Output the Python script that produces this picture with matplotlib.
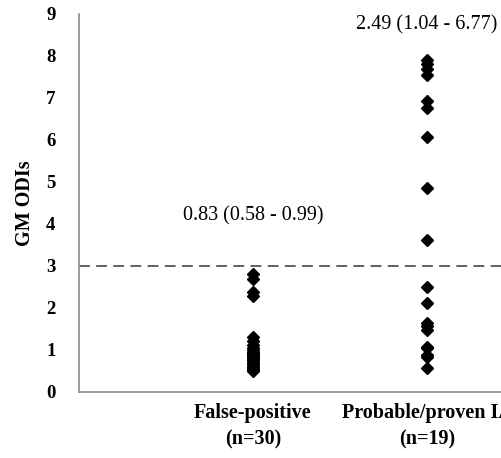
import matplotlib.pyplot as plt

# groups on the x axis
groups = ['False-positive\n(n=30)', 'Probable/proven IA\n(n=19)']

# GM ODI values
false_positive = [2.80, 2.70, 2.38, 2.28,
                  1.30, 1.22, 1.12, 1.04, 0.99, 0.96, 0.93, 0.90, 0.88, 0.86,
                  0.84, 0.82, 0.80, 0.77, 0.74, 0.70, 0.66, 0.62, 0.58, 0.57,
                  0.56, 0.55, 0.54, 0.53, 0.52, 0.50]
probable = [7.90, 7.80, 7.68, 7.55, 6.93, 6.77, 6.07, 4.86, 3.62,
            2.49, 2.11, 1.64, 1.56, 1.48, 1.08, 1.04, 0.88, 0.84, 0.57]

medians = ['0.83 (0.58 - 0.99)', '2.49 (1.04 - 6.77)']
median_y = [4.2, 8.75]
cutoff = 3

plt.rcParams['font.family'] = ['Liberation Serif', 'DejaVu Serif']

fig = plt.figure(figsize=(5.02, 4.58), dpi=100)
# axes run past the right edge, as in the (cropped) original
ax = fig.add_axes([79 / 502, 66 / 458, 522 / 502, 378 / 458])

for i, vals in enumerate([false_positive, probable]):
    ax.plot([i + 1] * len(vals), vals, 'D', color='black', markersize=6,
            linestyle='none')
    ax.text(i + 1, median_y[i], medians[i], ha='center', va='center', fontsize=14.5)

ax.axhline(cutoff, color='#555555', linestyle=(0, (6, 3.5)), linewidth=1.3)

ax.set_xlim(0, 3)
ax.set_ylim(0, 9)
ax.set_yticks(range(10))
ax.set_xticks([1, 2])
ax.set_xticklabels(groups, fontsize=14.5, fontweight='bold', linespacing=1.45)
for lab in ax.get_yticklabels():
    lab.set_fontweight('bold')
    lab.set_fontsize(13.5)
ax.tick_params(axis='y', length=0, pad=17)
ax.tick_params(axis='x', length=0, pad=8)
ax.set_ylabel('GM ODIs', fontsize=14.5, fontweight='bold', labelpad=8)

for s in ['top', 'right']:
    ax.spines[s].set_visible(False)
for s in ['left', 'bottom']:
    ax.spines[s].set_color('#8c8c8c')
    ax.spines[s].set_linewidth(1.2)

fig.savefig('out.png', dpi=100)
